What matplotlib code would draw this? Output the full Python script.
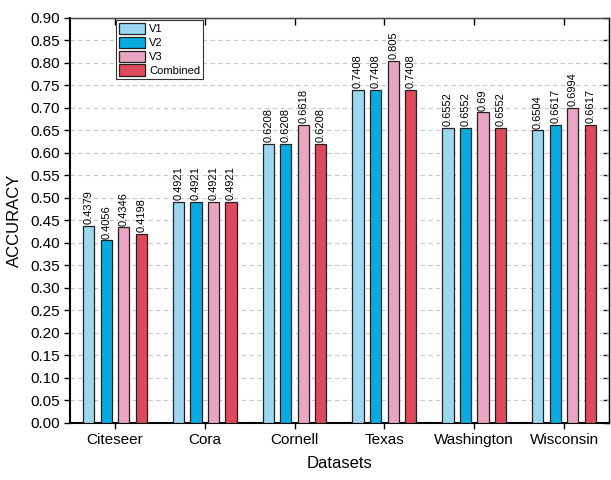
# Grouped bar chart of accuracy per dataset for V1, V2, V3 and combined views

import matplotlib
matplotlib.use('Agg')
import matplotlib.pyplot as plt
import numpy as np

plt.rcParams['font.family'] = ['Liberation Sans', 'DejaVu Sans']

datasets = ['Citeseer', 'Cora', 'Cornell', 'Texas', 'Washington', 'Wisconsin']
series_names = ['V1', 'V2', 'V3', 'Combined']
v1 = [0.4379, 0.4921, 0.6208, 0.7408, 0.6552, 0.6504]
v2 = [0.4056, 0.4921, 0.6208, 0.7408, 0.6552, 0.6617]
v3 = [0.4346, 0.4921, 0.6618, 0.805, 0.69, 0.6994]
combined = [0.4198, 0.4921, 0.6208, 0.7408, 0.6552, 0.6617]
labels = [
    ['0.4379', '0.4921', '0.6208', '0.7408', '0.6552', '0.6504'],
    ['0.4056', '0.4921', '0.6208', '0.7408', '0.6552', '0.6617'],
    ['0.4346', '0.4921', '0.6618', '0.805', '0.69', '0.6994'],
    ['0.4198', '0.4921', '0.6208', '0.7408', '0.6552', '0.6617'],
]
colors = ['#9bd7f1', '#08abe0', '#eaa5c2', '#dc4a5c']

fig = plt.figure(figsize=(6.11, 4.8), dpi=100)
ax = fig.add_axes([0.1146, 0.1188, 0.882, 0.8437])

x = np.arange(len(datasets))
width = 0.125
step = 0.195
offsets = [-1.5 * step, -0.5 * step, 0.5 * step, 1.5 * step]

for vals, labs, name, col, off in zip([v1, v2, v3, combined], labels, series_names, colors, offsets):
    bars = ax.bar(x + off, vals, width, color=col, edgecolor='#222222', linewidth=0.9, label=name, zorder=3)
    for b, lab in zip(bars, labs):
        ax.text(b.get_x() + b.get_width() / 2, b.get_height() + 0.004, lab,
                rotation=90, ha='center', va='bottom', fontsize=8, zorder=4)

ax.set_xlim(-0.5, 5.5)
ax.set_ylim(0, 0.90)
ticks = np.arange(0, 0.901, 0.05)
ax.set_yticks(ticks)
ax.set_yticklabels([f'{t:.2f}' for t in ticks])
ax.set_xticks(x)
ax.set_xticklabels(datasets)
ax.tick_params(axis='both', labelsize=11, width=1.0, direction='out', length=4)
# mirrored ticks on top and right point into the plot
sec_top = ax.secondary_xaxis('top')
sec_top.set_xticks(x, labels=[])
sec_top.tick_params(direction='in', length=5, width=1.0)
sec_right = ax.secondary_yaxis('right')
sec_right.set_yticks(ticks, labels=[])
sec_right.tick_params(direction='in', length=4, width=1.0)

ax.yaxis.grid(True, linestyle=(0, (4, 3)), color='#c8c8c8', linewidth=0.8, zorder=0)
ax.set_axisbelow(True)

ax.spines['left'].set_linewidth(1.5)
ax.spines['bottom'].set_linewidth(1.5)
ax.spines['top'].set_linewidth(1.0)
ax.spines['top'].set_color('#444444')
ax.spines['right'].set_linewidth(1.0)

ax.set_xlabel('Datasets', fontsize=12, labelpad=6)
ax.set_ylabel('ACCURACY', fontsize=12, labelpad=6)

leg = ax.legend(loc='upper left', bbox_to_anchor=(0.085, 0.995), fontsize=8, frameon=True,
                fancybox=False, edgecolor='#333333', framealpha=1, handlelength=2.4,
                handleheight=1.2, labelspacing=0.22, borderpad=0.25, handletextpad=0.35,
                borderaxespad=0)
leg.get_frame().set_linewidth(0.8)
leg.set_zorder(5)

fig.savefig('out.png', dpi=100)
